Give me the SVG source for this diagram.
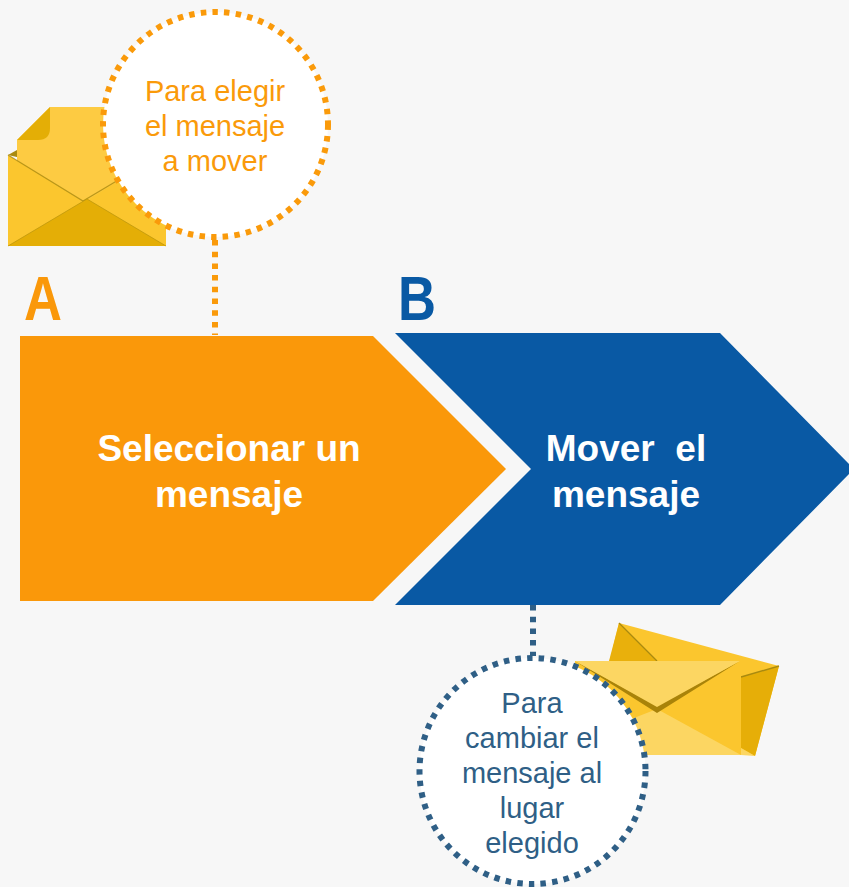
<svg xmlns="http://www.w3.org/2000/svg" width="849" height="887" viewBox="0 0 849 887">
<style>
.t{font-family:"Liberation Sans",Arial,sans-serif;text-anchor:middle}
.c{fill:#fff;stroke-width:6;stroke-dasharray:5.5 6.2}
.l{fill:none;stroke-width:6;stroke-dasharray:5.5 6.2}
.o{stroke:#fa9a0a}.b{stroke:#2f5f86}
.small{font-size:29px}
.big{font-size:37px;font-weight:bold;fill:#fff}
.let{font-size:63px;font-weight:bold}
</style>
<rect width="849" height="887" fill="#f7f7f7"/>
<g id="envelope-a">
<path d="M8 155 L17 150 L30 160 Z" fill="#a98a10"/>
<path d="M17 140 L50 107 H130 V210 H17 Z" fill="#fdcb42"/>
<path d="M17 140 L50 107 V128 Q50 140 38 140 Z" fill="#e4ae06"/>
<path d="M8 155 L84 202 L120 180 L166 215 V246 H8 Z" fill="#fbc62e"/>
<path d="M8 155 L83 201 L120 179" fill="none" stroke="#a98a10" stroke-width="1.2" stroke-opacity=".8"/>
<path d="M8 246 L87 199 L166 246 Z" fill="#e4ae06"/>
<path d="M8 246 L87 199 L166 246" fill="none" stroke="#b8930c" stroke-width="1" stroke-opacity=".7"/>
</g>
<g id="envelope-b">
<path d="M619 623 L779 666 L755 756 L740 752 L600 700 Z" fill="#fbc62e"/>
<path d="M619 623 L657 661 H609 Z" fill="#e9b00c"/>
<path d="M619 623 L657 661" stroke="#a98a10" stroke-width="1.2" fill="none"/>
<path d="M741 677 L779 666 L755 756 L741 748 Z" fill="#e6ae08"/>
<path d="M741 677 L779 666" stroke="#a98a10" stroke-width="1.4" fill="none"/>
<path d="M741 748 L755 756 L741 755 Z" fill="#fcd662"/>
<path d="M575 661 H741 V755 H575 Z" fill="#fbc62e"/>
<path d="M575 755 V741 L657 709 L741 755 Z" fill="#fcd662"/>
<path d="M575 661 L657 713 L740 661 L657 706 Z" fill="#a98309"/>
<path d="M575 661 H740 L657 707 Z" fill="#fcd662"/>
</g>
<g id="connectors">
<path class="l o" d="M215 240 V335"/>
<path class="l b" d="M533 605 V656"/>
</g>
<g id="note-a">
<circle class="c o" cx="215.5" cy="124.5" r="112.5"/>
<text class="t small" fill="#fa9a0a" x="215" y="101">Para elegir</text>
<text class="t small" fill="#fa9a0a" x="215" y="136">el mensaje</text>
<text class="t small" fill="#fa9a0a" x="215" y="171">a mover</text>
</g>
<g id="note-b">
<circle class="c b" cx="532.5" cy="771" r="113"/>
<text class="t small" fill="#2f5f86" x="532" y="713">Para</text>
<text class="t small" fill="#2f5f86" x="532" y="748">cambiar el</text>
<text class="t small" fill="#2f5f86" x="532" y="783">mensaje al</text>
<text class="t small" fill="#2f5f86" x="532" y="818">lugar</text>
<text class="t small" fill="#2f5f86" x="532" y="853">elegido</text>
</g>
<g id="step-a">
<path d="M20 336 H373 L506 469 L373 601 H20 Z" fill="#fa980a"/>
<text class="t big" x="229" y="461" xml:space="preserve">Seleccionar un</text>
<text class="t big" x="229" y="507">mensaje</text>
<text class="t let" fill="#fa980a" x="43" y="320" textLength="38" lengthAdjust="spacingAndGlyphs">A</text>
</g>
<g id="step-b">
<path d="M395 333 H720 L854 469 L720 605 H395 L531 469 Z" fill="#0959a4"/>
<text class="t big" x="626" y="461" xml:space="preserve">Mover  el</text>
<text class="t big" x="626" y="507">mensaje</text>
<text class="t let" fill="#0959a4" x="417" y="320" textLength="38" lengthAdjust="spacingAndGlyphs">B</text>
</g>
</svg>
